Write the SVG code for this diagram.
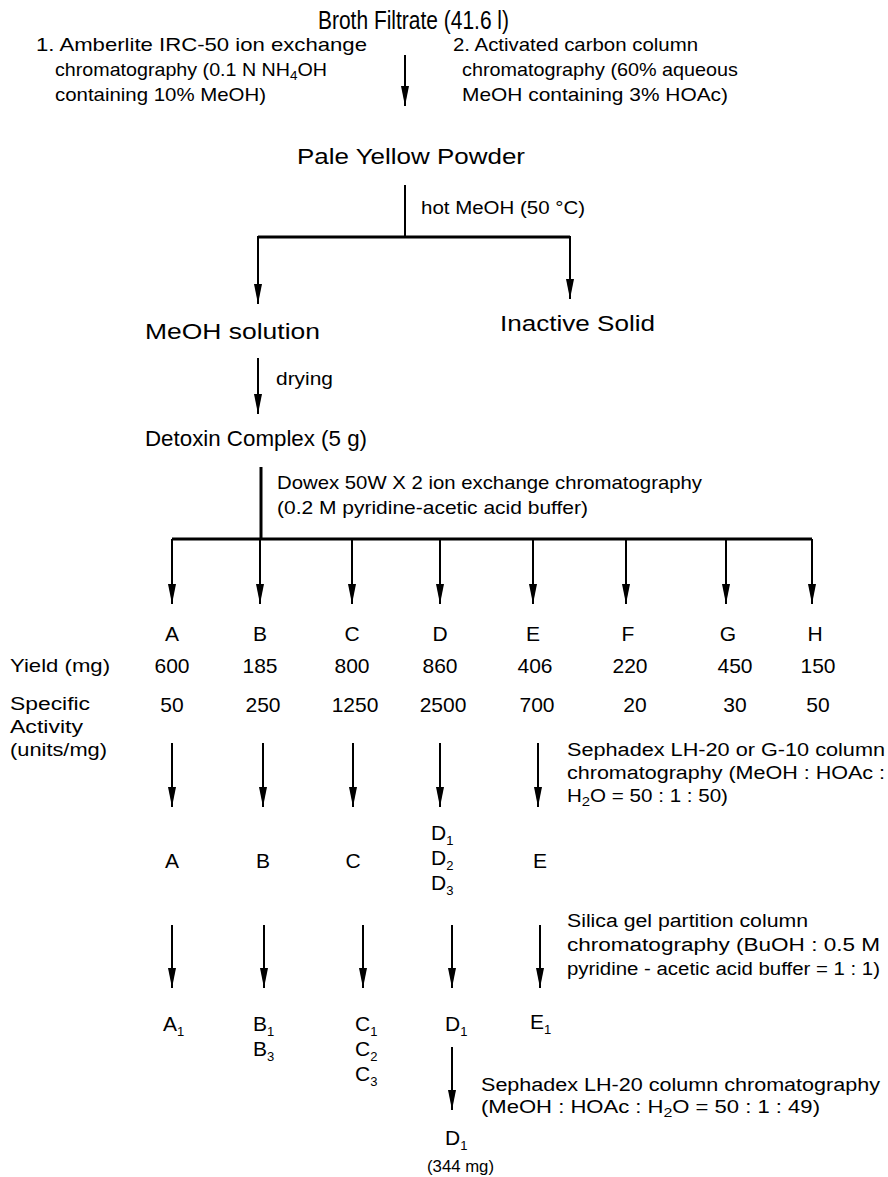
<svg xmlns="http://www.w3.org/2000/svg" width="888" height="1177" viewBox="0 0 888 1177">
<style>
text{font-family:"Liberation Sans",Arial,Helvetica,sans-serif;fill:#000}
.big{font-size:22px}
.lab{font-size:18px}
.nar{font-size:19px}
.ltr{font-size:21px;text-anchor:middle}
.num{font-size:21px;text-anchor:middle}
.sl{font-size:21px}
.sub{font-size:13px}
.ln{stroke:#000;stroke-width:2;fill:none}
.bus{stroke:#000;stroke-width:3;fill:none}
</style>
<defs>
<marker id="ah" viewBox="0 0 20 8" refX="20" refY="4" markerWidth="20" markerHeight="8" markerUnits="userSpaceOnUse" orient="auto">
<path d="M0,0 L20,4 L0,8 z" fill="#000"/>
</marker>
</defs>
<g id="connectors">
<line class="ln" x1="405" y1="55" x2="405" y2="106" marker-end="url(#ah)"/>
<line class="ln" x1="405" y1="185" x2="405" y2="237"/>
<polyline class="bus" points="258,237 570,237"/>
<line class="ln" x1="258" y1="236" x2="258" y2="304" marker-end="url(#ah)"/>
<line class="ln" x1="570" y1="236" x2="570" y2="299" marker-end="url(#ah)"/>
<line class="ln" x1="258" y1="358" x2="258" y2="414" marker-end="url(#ah)"/>
<line class="bus" x1="261" y1="467" x2="261" y2="539"/>
<line class="bus" x1="172" y1="539" x2="812" y2="539"/>
<line class="ln" x1="172" y1="539" x2="172" y2="604" marker-end="url(#ah)"/>
<line class="ln" x1="260" y1="539" x2="260" y2="604" marker-end="url(#ah)"/>
<line class="ln" x1="352" y1="539" x2="352" y2="604" marker-end="url(#ah)"/>
<line class="ln" x1="440" y1="539" x2="440" y2="604" marker-end="url(#ah)"/>
<line class="ln" x1="533" y1="539" x2="533" y2="604" marker-end="url(#ah)"/>
<line class="ln" x1="626" y1="539" x2="626" y2="604" marker-end="url(#ah)"/>
<line class="ln" x1="726" y1="539" x2="726" y2="604" marker-end="url(#ah)"/>
<line class="ln" x1="812" y1="539" x2="812" y2="604" marker-end="url(#ah)"/>
<line class="ln" x1="172" y1="743" x2="172" y2="807" marker-end="url(#ah)"/>
<line class="ln" x1="263" y1="743" x2="263" y2="807" marker-end="url(#ah)"/>
<line class="ln" x1="353" y1="743" x2="353" y2="807" marker-end="url(#ah)"/>
<line class="ln" x1="440" y1="743" x2="440" y2="807" marker-end="url(#ah)" stroke-width="1.5"/>
<line class="ln" x1="538" y1="743" x2="538" y2="807" marker-end="url(#ah)"/>
<line class="ln" x1="172" y1="925" x2="172" y2="988" marker-end="url(#ah)"/>
<line class="ln" x1="264" y1="925" x2="264" y2="988" marker-end="url(#ah)"/>
<line class="ln" x1="363" y1="925" x2="363" y2="988" marker-end="url(#ah)"/>
<line class="ln" x1="452" y1="925" x2="452" y2="988" marker-end="url(#ah)"/>
<line class="ln" x1="540" y1="925" x2="540" y2="988" marker-end="url(#ah)"/>
<line class="ln" x1="452" y1="1047" x2="452" y2="1110" marker-end="url(#ah)"/>
</g>
<g id="broth"><text x="318" y="29" style="font-size:25px" textLength="191" lengthAdjust="spacingAndGlyphs">Broth Filtrate (41.6 l)</text></g>
<g id="step1-label">
<text class="nar" x="36" y="51" textLength="331" lengthAdjust="spacingAndGlyphs">1. Amberlite IRC-50 ion exchange</text>
<text class="nar" x="55" y="76" textLength="272" lengthAdjust="spacingAndGlyphs">chromatography (0.1 N NH<tspan class="sub" dy="4">4</tspan><tspan dy="-4">OH</tspan></text>
<text class="nar" x="55" y="101" textLength="211" lengthAdjust="spacingAndGlyphs">containing 10% MeOH)</text>
</g>
<g id="step2-label">
<text class="nar" x="453" y="51" textLength="245" lengthAdjust="spacingAndGlyphs">2. Activated carbon column</text>
<text class="nar" x="462" y="76" textLength="276" lengthAdjust="spacingAndGlyphs">chromatography (60% aqueous</text>
<text class="nar" x="462" y="101" textLength="266" lengthAdjust="spacingAndGlyphs">MeOH containing 3% HOAc)</text>
</g>
<g id="pale"><text class="big" x="297" y="164" textLength="228" lengthAdjust="spacingAndGlyphs">Pale Yellow Powder</text></g>
<g id="hot-label"><text class="nar" x="421" y="214" style="font-size:18px" textLength="164" lengthAdjust="spacingAndGlyphs">hot MeOH (50 °C)</text></g>
<g id="meoh-sol"><text class="big" x="145" y="339" textLength="175" lengthAdjust="spacingAndGlyphs">MeOH solution</text></g>
<g id="inactive"><text class="big" x="500" y="331" textLength="155" lengthAdjust="spacingAndGlyphs">Inactive Solid</text></g>
<g id="drying-label"><text class="lab" x="276" y="385" textLength="57" lengthAdjust="spacingAndGlyphs">drying</text></g>
<g id="detoxin"><text class="big" x="145" y="446" textLength="222" lengthAdjust="spacingAndGlyphs">Detoxin Complex (5 g)</text></g>
<g id="dowex-label">
<text class="nar" x="277" y="489" textLength="425" lengthAdjust="spacingAndGlyphs">Dowex 50W X 2 ion exchange chromatography</text>
<text class="nar" x="277" y="514" textLength="311" lengthAdjust="spacingAndGlyphs">(0.2 M pyridine-acetic acid buffer)</text>
</g>
<g id="fractions">
<text class="ltr" x="172" y="641">A</text>
<text class="ltr" x="260" y="641">B</text>
<text class="ltr" x="352" y="641">C</text>
<text class="ltr" x="440" y="641">D</text>
<text class="ltr" x="533" y="641">E</text>
<text class="ltr" x="628" y="641">F</text>
<text class="ltr" x="728" y="641">G</text>
<text class="ltr" x="815" y="641">H</text>
</g>
<g id="yield">
<text class="nar" x="10" y="672" textLength="100" lengthAdjust="spacingAndGlyphs">Yield (mg)</text>
<text class="num" x="172" y="673">600</text>
<text class="num" x="260" y="673">185</text>
<text class="num" x="352" y="673">800</text>
<text class="num" x="440" y="673">860</text>
<text class="num" x="535" y="673">406</text>
<text class="num" x="630" y="673">220</text>
<text class="num" x="735" y="673">450</text>
<text class="num" x="818" y="673">150</text>
</g>
<g id="activity">
<text class="lab" x="10" y="710" textLength="80" lengthAdjust="spacingAndGlyphs">Specific</text>
<text class="lab" x="10" y="733" textLength="73" lengthAdjust="spacingAndGlyphs">Activity</text>
<text class="lab" x="10" y="756" textLength="97" lengthAdjust="spacingAndGlyphs">(units/mg)</text>
<text class="num" x="172" y="712">50</text>
<text class="num" x="263" y="712">250</text>
<text class="num" x="355" y="712">1250</text>
<text class="num" x="443" y="712">2500</text>
<text class="num" x="537" y="712">700</text>
<text class="num" x="635" y="712">20</text>
<text class="num" x="735" y="712">30</text>
<text class="num" x="818" y="712">50</text>
</g>
<g id="sephadex1-label">
<text class="lab" x="567" y="756" textLength="318" lengthAdjust="spacingAndGlyphs">Sephadex LH-20 or G-10 column</text>
<text class="lab" x="567" y="779" textLength="318" lengthAdjust="spacingAndGlyphs">chromatography  (MeOH : HOAc :</text>
<text class="lab" x="567" y="802" textLength="161" lengthAdjust="spacingAndGlyphs">H<tspan class="sub" dy="4">2</tspan><tspan dy="-4">O = 50 : 1 : 50)</tspan></text>
</g>
<g id="row2">
<text class="ltr" x="172" y="868">A</text>
<text class="ltr" x="263" y="868">B</text>
<text class="ltr" x="353" y="868">C</text>
<text class="sl" x="431" y="840">D<tspan class="sub" dy="5">1</tspan></text>
<text class="sl" x="431" y="865">D<tspan class="sub" dy="5">2</tspan></text>
<text class="sl" x="431" y="890">D<tspan class="sub" dy="5">3</tspan></text>
<text class="ltr" x="540" y="868">E</text>
</g>
<g id="silica-label">
<text class="lab" x="567" y="927" textLength="241" lengthAdjust="spacingAndGlyphs">Silica gel partition column</text>
<text class="lab" x="567" y="951" textLength="313" lengthAdjust="spacingAndGlyphs">chromatography  (BuOH : 0.5 M</text>
<text class="lab" x="567" y="975" textLength="313" lengthAdjust="spacingAndGlyphs">pyridine - acetic acid buffer = 1 : 1)</text>
</g>
<g id="row3">
<text class="sl" x="163" y="1031">A<tspan class="sub" dy="5">1</tspan></text>
<text class="sl" x="253" y="1031">B<tspan class="sub" dy="5">1</tspan></text>
<text class="sl" x="253" y="1056">B<tspan class="sub" dy="5">3</tspan></text>
<text class="sl" x="355" y="1031">C<tspan class="sub" dy="5">1</tspan></text>
<text class="sl" x="355" y="1056">C<tspan class="sub" dy="5">2</tspan></text>
<text class="sl" x="355" y="1081">C<tspan class="sub" dy="5">3</tspan></text>
<text class="sl" x="445" y="1031">D<tspan class="sub" dy="5">1</tspan></text>
<text class="sl" x="530" y="1029">E<tspan class="sub" dy="5">1</tspan></text>
</g>
<g id="sephadex2-label">
<text class="lab" x="481" y="1091" textLength="399" lengthAdjust="spacingAndGlyphs">Sephadex LH-20 column chromatography</text>
<text class="lab" x="481" y="1113" textLength="339" lengthAdjust="spacingAndGlyphs">(MeOH : HOAc : H<tspan class="sub" dy="4">2</tspan><tspan dy="-4">O = 50 : 1 : 49)</tspan></text>
</g>
<g id="final">
<text class="sl" x="445" y="1145">D<tspan class="sub" dy="5">1</tspan></text>
<text class="lab" x="427" y="1172" style="font-size:16px" textLength="67" lengthAdjust="spacingAndGlyphs">(344 mg)</text>
</g>
</svg>
